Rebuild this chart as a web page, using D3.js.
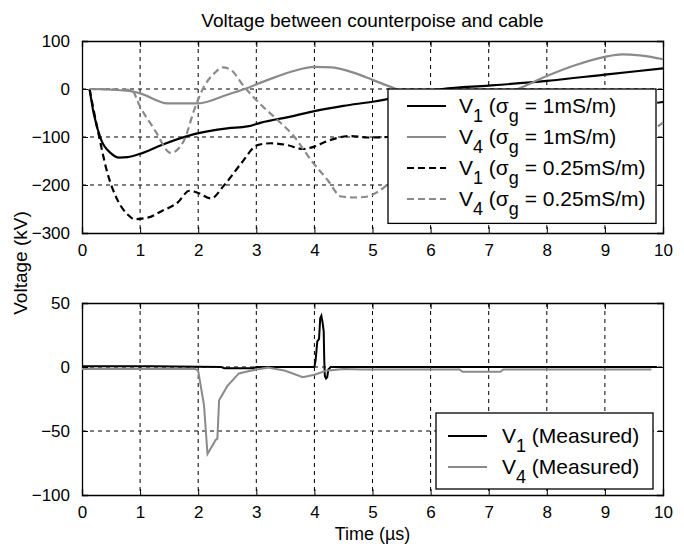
<!DOCTYPE html>
<html>
<head>
<meta charset="utf-8">
<script src="https://cdn.jsdelivr.net/npm/d3@7"></script>
<style>
  body { margin: 0; background: #fff; }
  text { font-family: "Liberation Sans", Arial, sans-serif; fill: #000; }
</style>
</head>
<body>
<svg id="chart" width="684" height="553"></svg>
<script>
// values: [time in µs, voltage in kV]
const timeTicks = [0, 1, 2, 3, 4, 5, 6, 7, 8, 9, 10];
const topTicks = [100, 0, -100, -200, -300];
const bottomTicks = [50, 0, -50, -100];

const v1High = [[0.13,0],[0.2,-50],[0.33,-106],[0.5,-134],[0.64,-143],[0.79,-142],[1.0,-135],[1.36,-117],
  [1.93,-94],[2.5,-82],[2.85,-78],[3.08,-70],[3.65,-56],[4.0,-46],[4.5,-35],[5.03,-26],[5.26,-21],
  [6.2,0],[7,7],[8,17],[9,30],[10,43]];
const v4High = [[0.13,0],[0.8,-4],[1.0,-9],[1.47,-30],[2.0,-30],[2.5,-12],[2.8,0],[3.2,19],[3.6,36],
  [4.0,46],[4.3,45],[4.7,33],[5.0,19],[5.3,5],[6.0,-25],[6.5,-30],[7.0,-20],[7.5,0],[8,27],[8.5,50],
  [9,67],[9.3,72],[9.6,70],[10,62]];
const v1Low = [[0.13,0],[0.27,-85],[0.44,-176],[0.61,-231],[0.79,-262],[0.9,-271],[1.13,-268],[1.36,-255],
  [1.65,-236],[1.85,-212],[1.99,-216],[2.22,-228],[2.45,-200],[2.74,-155],[3.02,-117],[3.25,-113],
  [3.54,-117],[3.8,-125],[4.0,-120],[4.23,-108],[4.63,-98],[4.92,-101],[5.26,-100],[6.5,-80],
  [8,-55],[9.2,-40],[10,-27]];
const v4Low = [[0.13,0],[0.85,-2],[1.0,-37],[1.25,-85],[1.53,-133],[1.76,-106],[1.93,-44],[2.1,5],
  [2.28,33],[2.42,45],[2.56,40],[2.79,5],[3.08,-33],[3.37,-65],[3.65,-99],[3.94,-148],[4.23,-190],
  [4.46,-224],[4.69,-226],[4.92,-224],[5.09,-214],[5.26,-199],[6.0,-120],[6.8,-40],[7.8,-90],
  [8.8,-150],[9.4,-120],[10,-70]];

const v1Measured = [[0,0.5],[1.2,0.5],[2.4,0],[2.45,-1],[2.95,-1],[3.0,0],[4.0,0],[4.02,5],[4.05,20],
  [4.08,22],[4.1,38],[4.12,40],[4.14,35],[4.16,28],[4.17,5],[4.18,-7],[4.2,-9],[4.22,-8],[4.24,-2],
  [4.28,0],[9.9,0]];
const v4Measured = [[0,-1.5],[1.95,-1.5],[2.0,-3],[2.1,-30],[2.16,-68],[2.3,-57],[2.33,-56],[2.36,-26],
  [2.5,-15],[2.7,-5],[2.9,-3],[3.0,-2],[3.2,-0.5],[3.5,-3],[3.8,-8],[4.0,-6],[4.2,-3],[4.5,-1.5],
  [4.8,-2],[6.5,-2],[6.55,-3.7],[7.2,-3.7],[7.25,-2],[9.8,-2]];

const topSeries = [
  { name: "1", cond: "1mS/m", data: v1High, color: "#000", dash: null },
  { name: "4", cond: "1mS/m", data: v4High, color: "#8a8a8a", dash: null },
  { name: "1", cond: "0.25mS/m", data: v1Low, color: "#000", dash: "7,4" },
  { name: "4", cond: "0.25mS/m", data: v4Low, color: "#8a8a8a", dash: "7,4" }
];
const bottomSeries = [
  { name: "1", label: "(Measured)", data: v1Measured, color: "#000" },
  { name: "4", label: "(Measured)", data: v4Measured, color: "#8a8a8a" }
];

const svg = d3.select("#chart");
const left = 82, right = 663;

const x = d3.scaleLinear().domain([0, 10]).range([left, right]);
const yTop = d3.scaleLinear().domain([-300, 100]).range([233, 41]);
const yBottom = d3.scaleLinear().domain([-100, 50]).range([495, 303]);

function drawFrame(y, ticks) {
  const [y0, y1] = y.range();
  const g = svg.append("g");
  // dotted grid
  g.selectAll(".gx").data(timeTicks.slice(1, -1)).join("line")
    .attr("x1", d => x(d)).attr("x2", d => x(d)).attr("y1", y1).attr("y2", y0)
    .attr("stroke", "#000").attr("stroke-dasharray", "4,4");
  g.selectAll(".gy").data(ticks.slice(1, -1)).join("line")
    .attr("x1", left).attr("x2", right).attr("y1", d => y(d)).attr("y2", d => y(d))
    .attr("stroke", "#000").attr("stroke-dasharray", "4,4");
  // axes with inward ticks
  g.append("g").attr("transform", `translate(0,${y0})`)
    .call(d3.axisBottom(x).tickValues(timeTicks).tickSize(-6).tickPadding(11));
  g.append("g").attr("transform", `translate(0,${y1})`)
    .call(d3.axisTop(x).tickValues(timeTicks).tickSize(-6).tickFormat(""));
  g.append("g").attr("transform", `translate(${left},0)`)
    .call(d3.axisLeft(y).tickValues(ticks).tickSize(-6).tickPadding(12));
  g.append("g").attr("transform", `translate(${right},0)`)
    .call(d3.axisRight(y).tickValues(ticks).tickSize(-6).tickFormat(""));
  g.selectAll(".domain").attr("stroke", "#000").attr("stroke-width", 1.3);
  g.selectAll(".tick line").attr("stroke", "#000");
  g.selectAll(".tick text").attr("font-size", 17)
    .attr("font-family", "'Liberation Sans', Arial, sans-serif");
}

drawFrame(yTop, topTicks);
drawFrame(yBottom, bottomTicks);

const lineTop = d3.line().x(d => x(d[0])).y(d => yTop(d[1])).curve(d3.curveMonotoneX);
const lineBottom = d3.line().x(d => x(d[0])).y(d => yBottom(d[1]));

svg.append("g").selectAll("path").data(topSeries).join("path")
  .attr("d", d => lineTop(d.data)).attr("fill", "none")
  .attr("stroke", d => d.color).attr("stroke-width", 2.2)
  .attr("stroke-dasharray", d => d.dash);

svg.append("g").selectAll("path").data(bottomSeries).join("path")
  .attr("d", d => lineBottom(d.data)).attr("fill", "none")
  .attr("stroke", d => d.color).attr("stroke-width", 2);

// top legend
const legTop = svg.append("g");
legTop.append("rect").attr("x", 388).attr("y", yTop(0)).attr("width", 268).attr("height", yTop(-280) - yTop(0))
  .attr("fill", "#fff").attr("stroke", "#000").attr("stroke-width", 1.3);
topSeries.forEach((s, i) => {
  const cy = 106 + i * 31;
  legTop.append("line").attr("x1", 407).attr("x2", 446).attr("y1", cy).attr("y2", cy)
    .attr("stroke", s.color).attr("stroke-width", 2.2).attr("stroke-dasharray", s.dash);
  const t = legTop.append("text").attr("x", 459).attr("y", cy + 7).attr("font-size", 21);
  t.append("tspan").text("V");
  t.append("tspan").attr("dy", 9).attr("font-size", 18).text(s.name);
  t.append("tspan").attr("dy", -9).text(" (σ");
  t.append("tspan").attr("dy", 9).attr("font-size", 18).text("g");
  t.append("tspan").attr("dy", -9).text(" = " + s.cond + ")");
});

// bottom legend
const legBottom = svg.append("g");
legBottom.append("rect").attr("x", 436).attr("y", 413).attr("width", 217).attr("height", 76)
  .attr("fill", "#fff").attr("stroke", "#000").attr("stroke-width", 1.3);
bottomSeries.forEach((s, i) => {
  const cy = 436 + i * 31;
  legBottom.append("line").attr("x1", 448).attr("x2", 487).attr("y1", cy).attr("y2", cy)
    .attr("stroke", s.color).attr("stroke-width", 2.2);
  const t = legBottom.append("text").attr("x", 502).attr("y", cy + 7).attr("font-size", 21);
  t.append("tspan").text("V");
  t.append("tspan").attr("dy", 9).attr("font-size", 18).text(s.name);
  t.append("tspan").attr("dy", -9).text(" " + s.label);
});

// titles
svg.append("text").attr("x", (left + right) / 2).attr("y", 27).attr("text-anchor", "middle")
  .attr("font-size", 19).text("Voltage between counterpoise and cable");
svg.append("text").attr("x", (left + right) / 2).attr("y", 540).attr("text-anchor", "middle")
  .attr("font-size", 18).text("Time (µs)");
svg.append("text").attr("transform", "translate(27,263) rotate(-90)").attr("text-anchor", "middle")
  .attr("font-size", 19).text("Voltage (kV)");
</script>
</body>
</html>
